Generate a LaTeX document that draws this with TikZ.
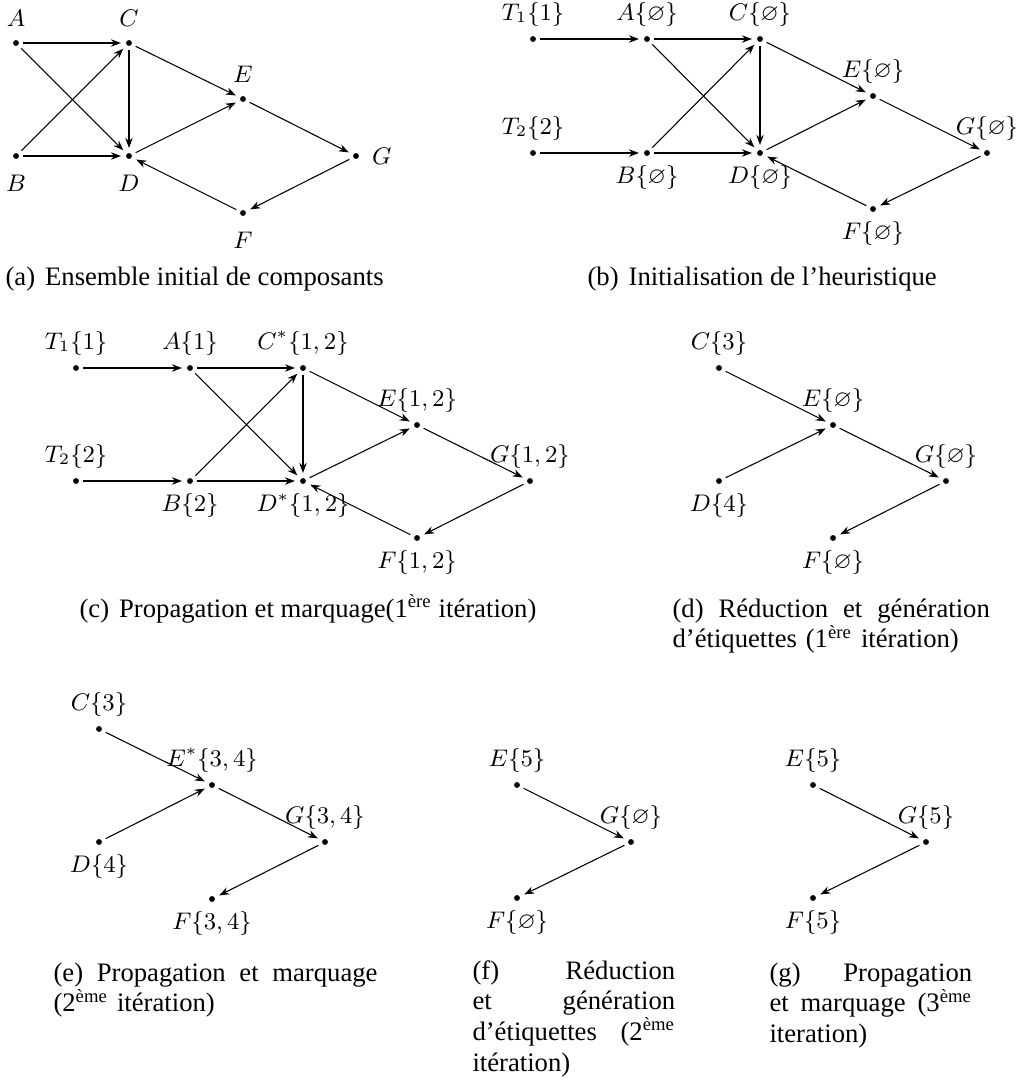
\documentclass[tikz,border=0pt]{standalone}
\usepackage{amsmath,amssymb}
\usepackage{fontspec}
\setmainfont{Liberation Serif}
\usetikzlibrary{arrows.meta}

\newcommand{\es}{\varnothing}
\newcommand{\subtag}[1]{(#1)\hspace{3.75pt}\ignorespaces}

\begin{document}
\begin{tikzpicture}[x=0.375pt,y=-0.375pt,
    vtx/.style={circle,fill,inner sep=0pt,minimum size=2.2pt},
    arr/.style={-{Stealth[length=3.8pt,width=2.8pt]},shorten <=1.5pt,shorten >=1.7pt},
    every label/.style={font=\fontsize{8.75pt}{10pt}\selectfont},
    lda/.style={label distance=1.25pt},
    ldb/.style={label distance=2.4pt},
    subcap/.style={anchor=north west,inner sep=0pt,align=left,
      font=\fontsize{10pt}{11.5pt}\selectfont}]
  \useasboundingbox (0,0) rectangle (1019,1083);

  % (a) initial set
  \node[vtx,label={[lda]above:$A$}] (aA) at (16,43) {};
  \node[vtx,label={[lda]above:$C$}] (aC) at (129,43) {};
  \node[vtx,label={[ldb]below:$B$}] (aB) at (16,156) {};
  \node[vtx,label={[ldb]below:$D$}] (aD) at (129,156) {};
  \node[vtx,label={[lda]above:$E$}] (aE) at (243,99) {};
  \node[vtx,label={[lda]right:$G$}] (aG) at (356,156) {};
  \node[vtx,label={[ldb]below:$F$}] (aF) at (243,213) {};
  \draw[arr] (aA) -- (aC); \draw[arr] (aA) -- (aD);
  \draw[arr] (aB) -- (aC); \draw[arr] (aB) -- (aD);
  \draw[arr] (aC) -- (aD); \draw[arr] (aC) -- (aE);
  \draw[arr] (aD) -- (aE); \draw[arr] (aE) -- (aG);
  \draw[arr] (aG) -- (aF); \draw[arr] (aF) -- (aD);
  \node[subcap] (capa) at (5,266) {\subtag{a}Ensemble initial de composants};

  % (b) initialisation
  \node[vtx,label={above:$T_1\{1\}$}] (bT1) at (533,39) {};
  \node[vtx,label={above:$T_2\{2\}$}] (bT2) at (533,153) {};
  \node[vtx,label={above:$A\{\es\}$}] (bA) at (647,39) {};
  \node[vtx,label={above:$C\{\es\}$}] (bC) at (760,39) {};
  \node[vtx,label={below:$B\{\es\}$}] (bB) at (647,153) {};
  \node[vtx,label={below:$D\{\es\}$}] (bD) at (760,153) {};
  \node[vtx,label={above:$E\{\es\}$}] (bE) at (873,96) {};
  \node[vtx,label={above:$G\{\es\}$}] (bG) at (987,153) {};
  \node[vtx,label={below:$F\{\es\}$}] (bF) at (873,209) {};
  \draw[arr] (bT1) -- (bA); \draw[arr] (bT2) -- (bB);
  \draw[arr] (bA) -- (bC); \draw[arr] (bA) -- (bD);
  \draw[arr] (bB) -- (bC); \draw[arr] (bB) -- (bD);
  \draw[arr] (bC) -- (bD); \draw[arr] (bC) -- (bE);
  \draw[arr] (bD) -- (bE); \draw[arr] (bE) -- (bG);
  \draw[arr] (bG) -- (bF); \draw[arr] (bF) -- (bD);
  \node[subcap] (capb) at (587,266) {\subtag{b}Initialisation de l’heuristique};

  % (c) first propagation
  \node[vtx,label={above:$T_1\{1\}$}] (cT1) at (76,368) {};
  \node[vtx,label={above:$T_2\{2\}$}] (cT2) at (76,481) {};
  \node[vtx,label={above:$A\{1\}$}] (cA) at (190,368) {};
  \node[vtx,label={above:$C^*\{1,2\}$}] (cC) at (303,368) {};
  \node[vtx,label={below:$B\{2\}$}] (cB) at (190,481) {};
  \node[vtx,label={below:$D^*\{1,2\}$}] (cD) at (303,481) {};
  \node[vtx,label={above:$E\{1,2\}$}] (cE) at (417,425) {};
  \node[vtx,label={above:$G\{1,2\}$}] (cG) at (530,481) {};
  \node[vtx,label={below:$F\{1,2\}$}] (cF) at (417,538) {};
  \draw[arr] (cT1) -- (cA); \draw[arr] (cT2) -- (cB);
  \draw[arr] (cA) -- (cC); \draw[arr] (cA) -- (cD);
  \draw[arr] (cB) -- (cC); \draw[arr] (cB) -- (cD);
  \draw[arr] (cC) -- (cD); \draw[arr] (cC) -- (cE);
  \draw[arr] (cD) -- (cE); \draw[arr] (cE) -- (cG);
  \draw[arr] (cG) -- (cF); \draw[arr] (cF) -- (cD);
  \node[subcap] (capc) at (79,594) {\subtag{c}Propagation et marquage(1\textsuperscript{ère} itération)};

  % (d) first reduction
  \node[vtx,label={above:$C\{3\}$}] (dC) at (719,368) {};
  \node[vtx,label={below:$D\{4\}$}] (dD) at (719,481) {};
  \node[vtx,label={above:$E\{\es\}$}] (dE) at (833,425) {};
  \node[vtx,label={above:$G\{\es\}$}] (dG) at (946,481) {};
  \node[vtx,label={below:$F\{\es\}$}] (dF) at (833,538) {};
  \draw[arr] (dC) -- (dE); \draw[arr] (dD) -- (dE);
  \draw[arr] (dE) -- (dG); \draw[arr] (dG) -- (dF);
  \node[subcap,text width=119pt] (capd) at (672,598)
    {(d)\hfill Réduction\hfill et\hfill génération\\ d’étiquettes (1\textsuperscript{ère} itération)};

  % (e) second propagation
  \node[vtx,label={above:$C\{3\}$}] (eC) at (99,729) {};
  \node[vtx,label={below:$D\{4\}$}] (eD) at (99,842) {};
  \node[vtx,label={above:$E^*\{3,4\}$}] (eE) at (212,785) {};
  \node[vtx,label={above:$G\{3,4\}$}] (eG) at (325,842) {};
  \node[vtx,label={below:$F\{3,4\}$}] (eF) at (212,899) {};
  \draw[arr] (eC) -- (eE); \draw[arr] (eD) -- (eE);
  \draw[arr] (eE) -- (eG); \draw[arr] (eG) -- (eF);
  \node[subcap,text width=121.5pt] (cape) at (53,962)
    {(e)\hfill Propagation\hfill et\hfill marquage\\ (2\textsuperscript{ème} itération)};

  % (f) second reduction
  \node[vtx,label={above:$E\{5\}$}] (fE) at (517,785) {};
  \node[vtx,label={above:$G\{\es\}$}] (fG) at (631,842) {};
  \node[vtx,label={below:$F\{\es\}$}] (fF) at (517,898) {};
  \draw[arr] (fE) -- (fG); \draw[arr] (fG) -- (fF);
  \node[subcap,text width=76pt] (capf) at (472,960)
    {(f)\hfill Réduction\\ et\hfill génération\\ d’étiquettes\hfill(2\textsuperscript{ème}\\ itération)};

  % (g) third propagation
  \node[vtx,label={above:$E\{5\}$}] (gE) at (813,785) {};
  \node[vtx,label={above:$G\{5\}$}] (gG) at (926,842) {};
  \node[vtx,label={below:$F\{5\}$}] (gF) at (813,898) {};
  \draw[arr] (gE) -- (gG); \draw[arr] (gG) -- (gF);
  \node[subcap,text width=76pt] (capg) at (769,962)
    {(g)\hfill Propagation\\ et\hfill marquage\hfill(3\textsuperscript{ème}\\ iteration)};
\end{tikzpicture}
\end{document}
